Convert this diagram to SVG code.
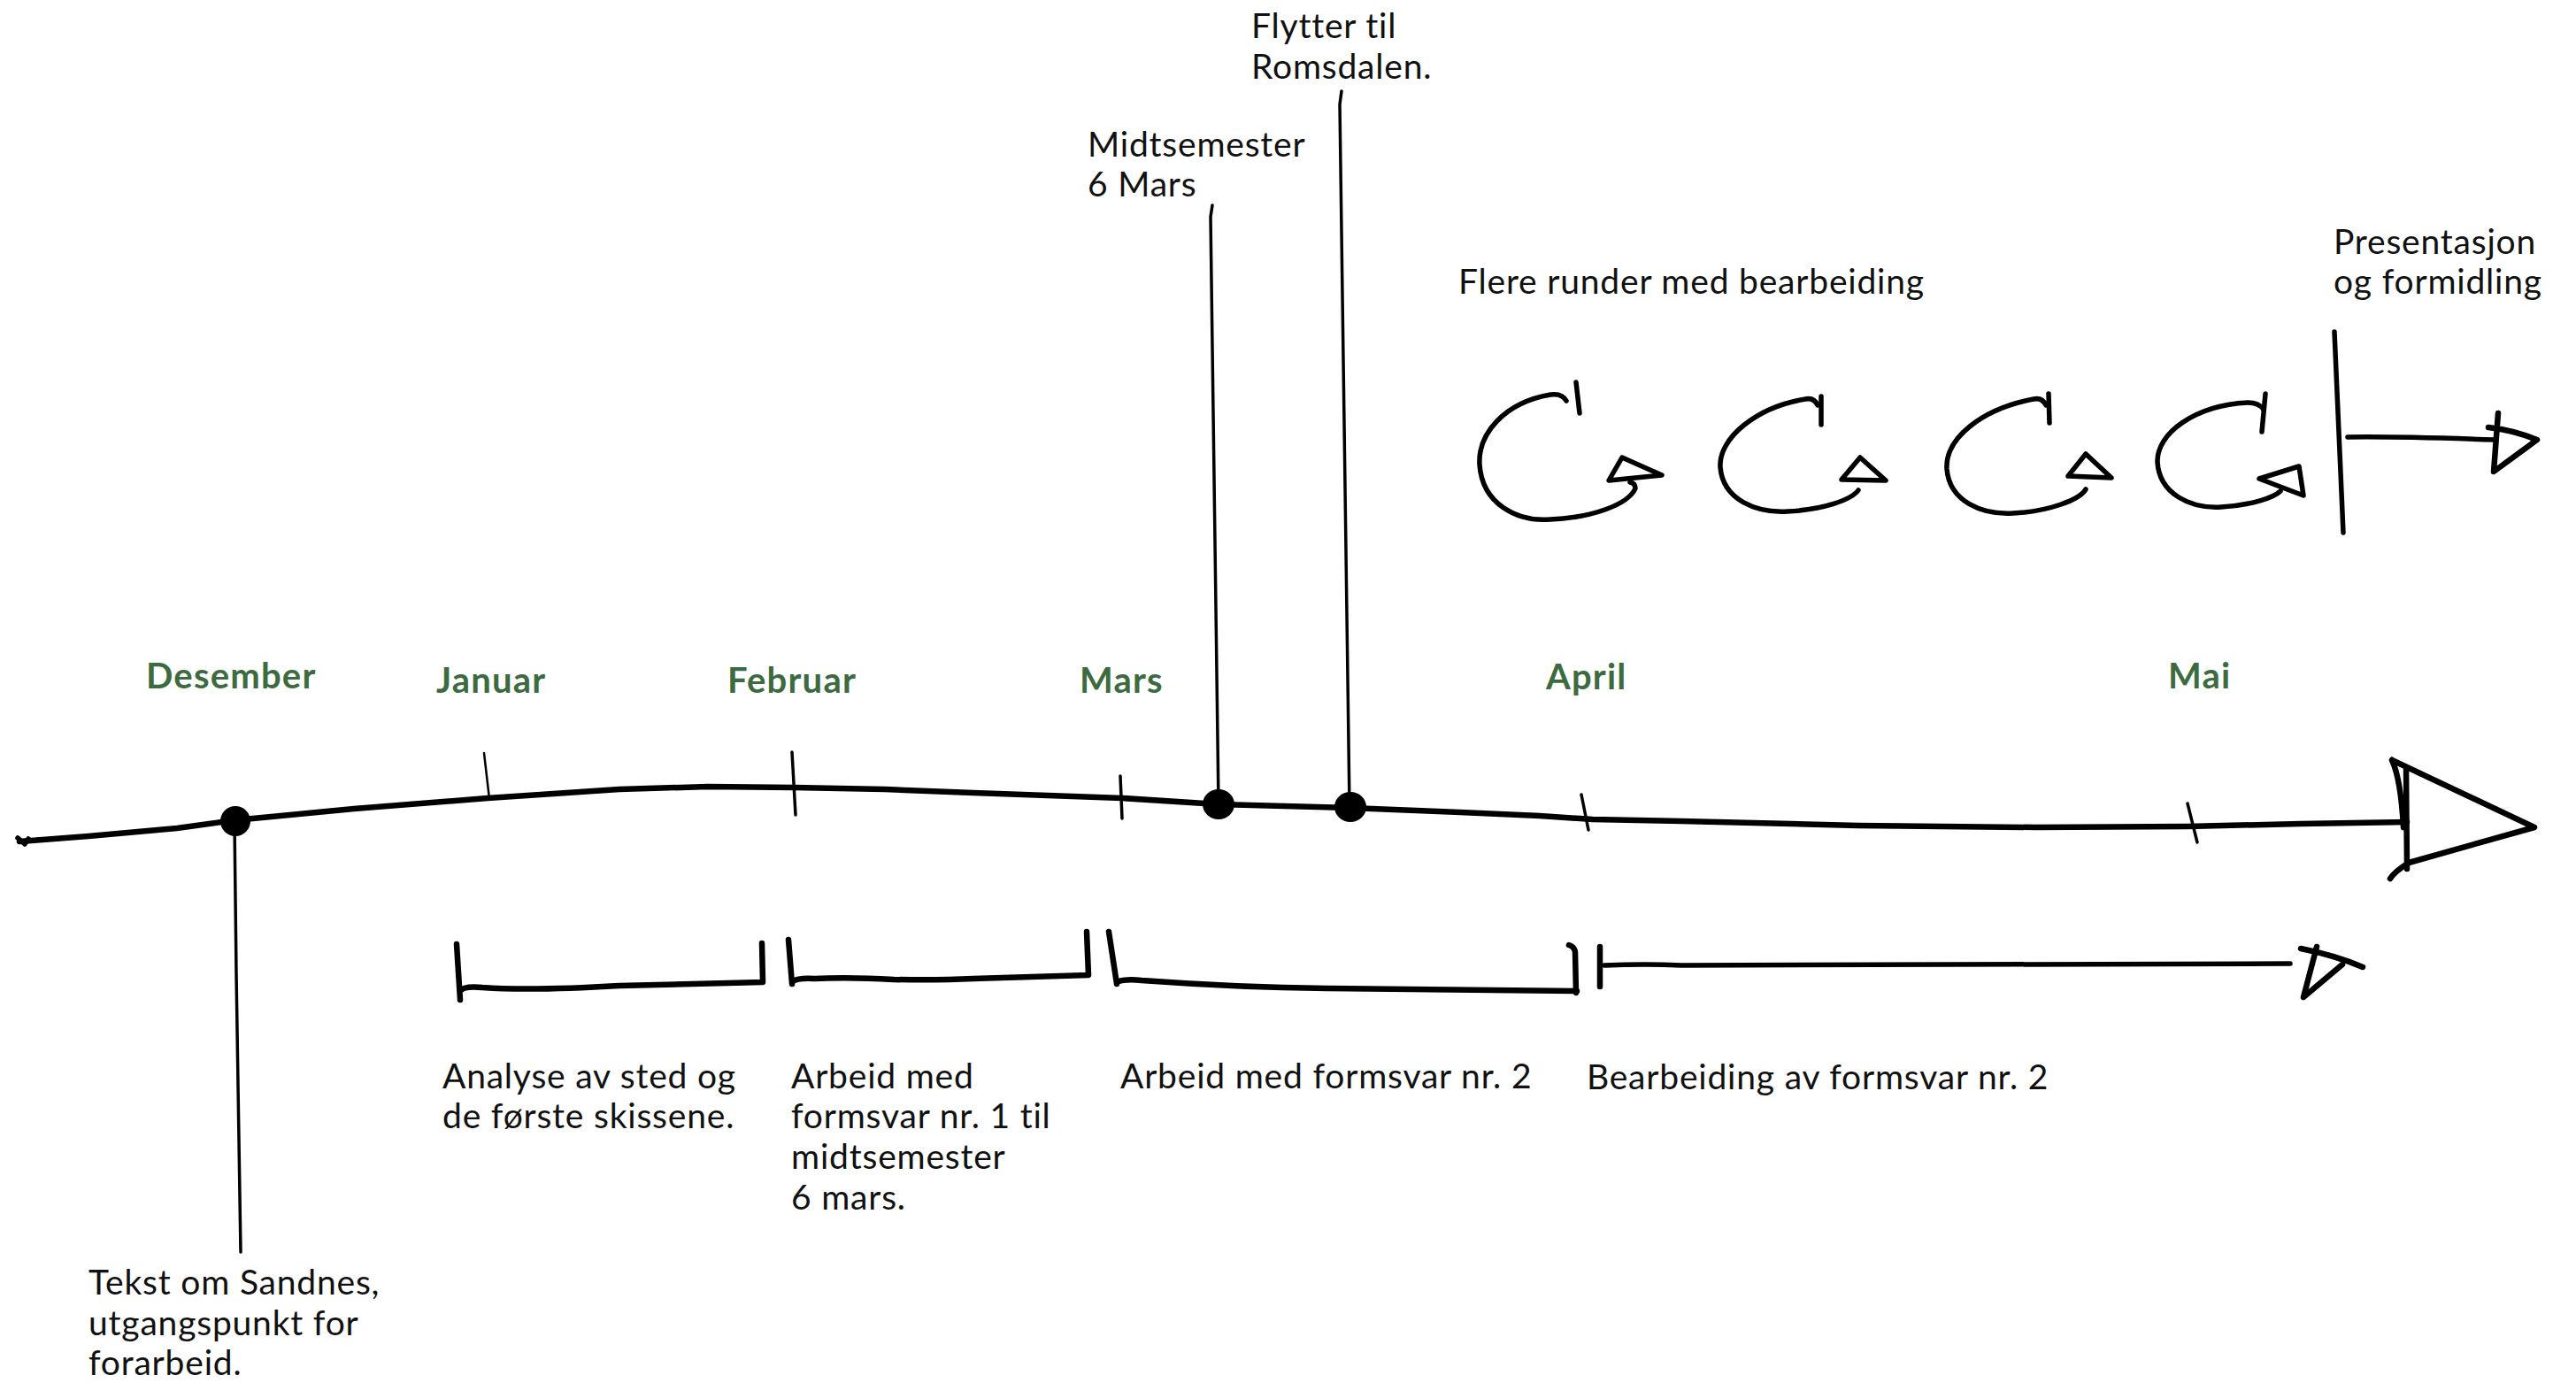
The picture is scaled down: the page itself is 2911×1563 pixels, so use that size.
<svg xmlns="http://www.w3.org/2000/svg" width="2911" height="1563" viewBox="0 0 2911 1563">
<style>
.t{font-family:Lato,"Noto Sans",sans-serif;font-size:39px;letter-spacing:0.8px;fill:#111}
.m{font-family:Lato,"Noto Sans",sans-serif;font-size:40px;letter-spacing:1.2px;font-weight:bold;fill:#3d6b40}
.s{fill:none;stroke:#000;stroke-linecap:round;stroke-linejoin:round}
.w2{stroke-width:2.5}
.w3{stroke-width:3.5}
.w5{stroke-width:5.5}
.w6{stroke-width:6.5}
.dot{fill:#000}
</style>
<rect width="2911" height="1563" fill="#fff"/>
<g id="connectors">
  <path class="s w6" d="M22,951 L100,945 L200,936 L265,927 L400,914 L551,902 L700,892 L800,889 L897,890 L1000,892 L1100,896 L1268,902 L1377,909 L1526,913 L1650,918 L1740,922 L1800,926 L1900,928 L2100,933 L2300,935 L2472,934 L2600,931 L2720,929"/>
  <path class="s w5" d="M20,947 L28,954 L32,948"/>
  <path class="s w2" d="M547,851 L553,903"/>
  <path class="s w3" d="M895,850 L899,921"/>
  <path class="s w3" d="M1266,877 L1268,925"/>
  <path class="s w3" d="M1787,898 L1795,938"/>
  <path class="s w3" d="M2472,908 L2483,952"/>
  <path class="s w6" d="M2703,859 Q2713,880 2716,935 M2719,867 L2720,982 M2703,859 L2864,935 L2722,975 Q2706,985 2701,993"/>
  <path class="s w3" d="M265,930 L267,1100 L272,1415"/>
  <path class="s w3" d="M1370,232 L1368,245 L1377,909"/>
  <path class="s w3" d="M1516,103 L1514,118 L1525,912"/>
  <path class="s w6" d="M516,1067 L520,1130 M520,1120 Q524,1114 545,1116 Q600,1120 700,1114 L862,1110 L861,1066"/>
  <path class="s w6" d="M891,1062 L895,1112 M895,1110 Q900,1105 920,1106 Q960,1104 1010,1107 Q1060,1108 1100,1106 L1230,1102 L1228,1053"/>
  <path class="s w6" d="M1253,1053 L1262,1112 M1262,1110 Q1270,1106 1290,1108 Q1400,1116 1500,1117 L1782,1120 M1781,1122 L1780,1076 Q1779,1070 1773,1068"/>
  <path class="s w6" d="M1808,1070 L1808,1115"/>
  <path class="s w5" d="M1813,1091 Q1860,1089 1900,1091 L2588,1089"/>
  <path class="s w6" d="M2600,1072 Q2640,1080 2670,1093 M2618,1070 L2603,1127 L2647,1090"/>
  <path class="s w5" d="M1770,453 Q1765,444 1752,446 C1700,455 1670,490 1672,525 C1675,570 1715,590 1752,587 C1800,585 1840,570 1848,552 Q1848,546 1842,545"/>
  <path class="s w5" d="M1781,432 L1785,467"/>
  <path class="s w5" d="M1833,517 L1878,537 L1818,543 Z"/>
  <path class="s w5" d="M2054,458 Q2050,449 2040,451 C1985,460 1942,495 1944,528 C1947,565 1985,580 2020,578 C2060,576 2092,565 2100,554"/>
  <path class="s w5" d="M2058,448 L2058,480"/>
  <path class="s w5" d="M2102,517 L2131,543 L2081,542 Z"/>
  <path class="s w5" d="M2312,458 Q2308,449 2298,451 C2240,462 2198,495 2200,530 C2203,567 2240,582 2275,580 C2315,578 2350,565 2357,553"/>
  <path class="s w5" d="M2315,445 L2316,478"/>
  <path class="s w5" d="M2357,513 L2386,540 L2337,538 Z"/>
  <path class="s w5" d="M2558,463 Q2553,455 2540,455 C2480,458 2437,490 2438,522 C2440,558 2475,575 2510,573 C2545,571 2570,562 2577,555"/>
  <path class="s w5" d="M2560,445 L2556,488"/>
  <path class="s w5" d="M2553,541 L2598,527 L2603,560 Z"/>
  <path class="s w5" d="M2638,375 L2648,602"/>
  <path class="s w5" d="M2653,494 Q2700,493 2820,497"/>
  <path class="s w6" d="M2823,467 L2818,533 L2867,497 Q2840,486 2812,483"/>
</g>
<g id="dot-desember"><ellipse class="dot" cx="266" cy="928" rx="17" ry="17"/></g>
<g id="dot-midtsemester"><ellipse class="dot" cx="1377" cy="909" rx="18" ry="17"/></g>
<g id="dot-flytter"><ellipse class="dot" cx="1526" cy="912" rx="18" ry="17"/></g>
<g id="month-desember"><text class="m" x="165" y="778">Desember</text></g>
<g id="month-januar"><text class="m" x="493" y="783">Januar</text></g>
<g id="month-februar"><text class="m" x="822" y="783">Februar</text></g>
<g id="month-mars"><text class="m" x="1220" y="783">Mars</text></g>
<g id="month-april"><text class="m" x="1747" y="779">April</text></g>
<g id="month-mai"><text class="m" x="2450" y="778">Mai</text></g>
<g id="note-flytter"><text class="t" x="1414" y="43">Flytter til</text><text class="t" x="1414" y="89">Romsdalen.</text></g>
<g id="note-midtsemester"><text class="t" x="1229" y="177">Midtsemester</text><text class="t" x="1229" y="222">6 Mars</text></g>
<g id="note-flere"><text class="t" x="1648" y="332">Flere runder med bearbeiding</text></g>
<g id="note-presentasjon"><text class="t" x="2637" y="287">Presentasjon</text><text class="t" x="2637" y="332">og formidling</text></g>
<g id="phase-analyse"><text class="t" x="500" y="1230">Analyse av sted og</text><text class="t" x="500" y="1275">de første skissene.</text></g>
<g id="phase-formsvar1"><text class="t" x="894" y="1230">Arbeid med</text><text class="t" x="894" y="1275">formsvar nr. 1 til</text><text class="t" x="894" y="1321">midtsemester</text><text class="t" x="894" y="1367">6 mars.</text></g>
<g id="phase-formsvar2"><text class="t" x="1266" y="1230">Arbeid med formsvar nr. 2</text></g>
<g id="phase-bearbeiding"><text class="t" x="1793" y="1231">Bearbeiding av formsvar nr. 2</text></g>
<g id="note-sandnes"><text class="t" x="100" y="1463">Tekst om Sandnes,</text><text class="t" x="100" y="1509">utgangspunkt for</text><text class="t" x="100" y="1554">forarbeid.</text></g>
</svg>
